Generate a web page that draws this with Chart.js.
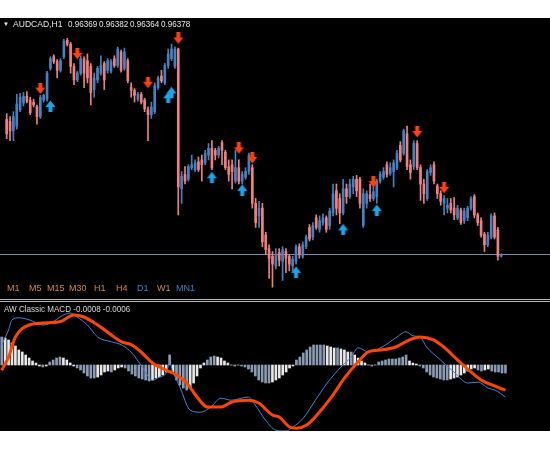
<!DOCTYPE html>
<html><head><meta charset="utf-8">
<script src="https://cdn.jsdelivr.net/npm/chart.js@4"></script>
<style>
html,body{margin:0;padding:0;background:#fff;width:550px;height:450px;overflow:hidden;}
#panel{position:absolute;left:0;top:18px;width:550px;height:413px;background:#000;}
.sep{position:absolute;left:0;width:550px;height:1px;background:#b8b8b8;}
#c1wrap{position:absolute;left:0;top:18px;width:550px;height:280px;}
#c2wrap{position:absolute;left:0;top:302px;width:550px;height:129px;}
canvas{display:block;}
.t{position:absolute;font-family:"Liberation Sans",Arial,sans-serif;white-space:nowrap;line-height:1;font-size:9px;}
.n{font-size:9.5px;transform:scaleX(0.85);transform-origin:0 0;}
</style></head><body>
<div id="panel"></div>
<div id="c1wrap"><canvas id="c1" width="550" height="280"></canvas></div>
<div class="sep" style="top:299px"></div>
<div class="sep" style="top:301px"></div>
<div id="c2wrap"><canvas id="c2" width="550" height="129"></canvas></div>

<div class="t" style="left:3px;top:21px;font-size:6px;color:#e8e8e8">▼</div>
<div class="t n" style="left:13px;top:19px;color:#e8e8e8;transform:scaleX(0.9)">AUDCAD,H1</div>
<div class="t n" style="left:68px;top:19px;color:#e8e8e8">0.96369</div>
<div class="t n" style="left:99px;top:19px;color:#e8e8e8">0.96382</div>
<div class="t n" style="left:130px;top:19px;color:#e8e8e8">0.96364</div>
<div class="t n" style="left:161px;top:19px;color:#e8e8e8">0.96378</div>

<div class="t" style="left:7px;top:284px;color:#d9864c">M1</div>
<div class="t" style="left:29px;top:284px;color:#d9864c">M5</div>
<div class="t" style="left:47px;top:284px;color:#d9864c">M15</div>
<div class="t" style="left:69px;top:284px;color:#d9864c">M30</div>
<div class="t" style="left:94px;top:284px;color:#d9864c">H1</div>
<div class="t" style="left:116px;top:284px;color:#d9864c">H4</div>
<div class="t" style="left:137px;top:284px;color:#4a7fc0">D1</div>
<div class="t" style="left:157px;top:284px;color:#d9864c">W1</div>
<div class="t" style="left:176px;top:284px;color:#4a7fc0">MN1</div>

<div class="t n" style="left:4px;top:304px;color:#d8d8d8">AW Classic MACD -0.0008 -0.0006</div>

<script>
// ---------- price data (AUDCAD H1) ----------
const open = [
0.97078,0.97068,0.97018,0.97043,0.97128,0.97163,0.97198,0.97178,0.97168,0.97143,
0.97093,0.97178,0.97183,0.97343,0.97403,0.97378,0.97333,0.97403,0.97488,0.97468,
0.97353,0.97283,0.97318,0.97393,0.97383,0.97353,0.97233,0.97283,0.97318,0.97368,
0.97333,0.97328,0.97393,0.97358,0.97428,0.97343,0.97383,0.97243,0.97228,0.97183,
0.97208,0.97178,0.97128,0.97103,0.97118,0.97243,0.97303,0.97268,0.97358,0.97393,
0.97353,0.97443,0.96718,0.96793,0.96768,0.96828,0.96818,0.96858,0.96868,0.96853,
0.96893,0.96928,0.96918,0.96893,0.96958,0.96908,0.96833,0.96843,0.96758,0.96828,
0.96758,0.96778,0.96808,0.96828,0.96643,0.96578,0.96618,0.96478,0.96408,0.96368,
0.96318,0.96388,0.96343,0.96393,0.96368,0.96318,0.96343,0.96418,0.96368,0.96418,
0.96518,0.96468,0.96568,0.96508,0.96543,0.96568,0.96528,0.96593,0.96708,0.96668,
0.96593,0.96718,0.96678,0.96728,0.96768,0.96768,0.96528,0.96643,0.96688,0.96668,
0.96678,0.96758,0.96778,0.96843,0.96798,0.96808,0.96828,0.96943,0.96903,0.97003,
0.96843,0.96833,0.96953,0.96828,0.96743,0.96668,0.96803,0.96843,0.96733,0.96693,
0.96643,0.96618,0.96643,0.96618,0.96568,0.96608,0.96553,0.96568,0.96618,0.96678,
0.96583,0.96553,0.96483,0.96428,0.96468,0.96578,0.96503,0.96369];
const high = [
0.97108,0.97093,0.97118,0.97208,0.97213,0.97218,0.97223,0.97193,0.97183,0.97153,
0.97203,0.97208,0.97328,0.97403,0.97413,0.97388,0.97393,0.97493,0.97498,0.97478,
0.97368,0.97328,0.97408,0.97403,0.97418,0.97368,0.97318,0.97353,0.97408,0.97378,
0.97393,0.97388,0.97408,0.97453,0.97438,0.97448,0.97393,0.97268,0.97238,0.97218,
0.97218,0.97188,0.97143,0.97168,0.97268,0.97303,0.97333,0.97368,0.97443,0.97468,
0.97453,0.97448,0.96808,0.96833,0.96843,0.96893,0.96868,0.96883,0.96893,0.96918,
0.96953,0.96968,0.96928,0.96938,0.96968,0.96918,0.96868,0.96868,0.96918,0.96868,
0.96808,0.96828,0.96903,0.96843,0.96668,0.96653,0.96643,0.96493,0.96428,0.96393,
0.96408,0.96408,0.96418,0.96408,0.96378,0.96368,0.96428,0.96433,0.96443,0.96478,
0.96533,0.96543,0.96583,0.96578,0.96588,0.96578,0.96618,0.96743,0.96743,0.96693,
0.96768,0.96743,0.96768,0.96783,0.96788,0.96778,0.96718,0.96708,0.96743,0.96728,
0.96768,0.96808,0.96828,0.96858,0.96853,0.96868,0.96918,0.96963,0.97028,0.97043,
0.96868,0.96968,0.96968,0.96843,0.96768,0.96818,0.96843,0.96858,0.96743,0.96708,
0.96683,0.96668,0.96668,0.96673,0.96633,0.96618,0.96618,0.96628,0.96678,0.96688,
0.96593,0.96568,0.96493,0.96493,0.96588,0.96593,0.96518,0.96382];
const low = [
0.96978,0.96968,0.96968,0.97028,0.97118,0.97148,0.97163,0.97103,0.97143,0.97053,
0.97083,0.97168,0.97173,0.97333,0.97368,0.97293,0.97323,0.97393,0.97458,0.97318,
0.97258,0.97273,0.97308,0.97243,0.97268,0.97153,0.97193,0.97268,0.97308,0.97233,
0.97318,0.97318,0.97348,0.97348,0.97323,0.97333,0.97268,0.97193,0.97168,0.97173,
0.97158,0.97118,0.96968,0.97083,0.97108,0.97233,0.97268,0.97258,0.97343,0.97383,
0.97343,0.96583,0.96643,0.96743,0.96758,0.96818,0.96808,0.96808,0.96758,0.96843,
0.96868,0.96818,0.96868,0.96878,0.96843,0.96818,0.96758,0.96718,0.96748,0.96743,
0.96743,0.96768,0.96793,0.96618,0.96518,0.96518,0.96418,0.96378,0.96253,0.96208,
0.96303,0.96318,0.96243,0.96283,0.96293,0.96293,0.96328,0.96358,0.96358,0.96408,
0.96448,0.96453,0.96508,0.96493,0.96528,0.96493,0.96508,0.96578,0.96583,0.96538,
0.96583,0.96643,0.96668,0.96693,0.96678,0.96618,0.96518,0.96618,0.96653,0.96658,
0.96643,0.96748,0.96768,0.96778,0.96788,0.96728,0.96818,0.96858,0.96893,0.96818,
0.96768,0.96818,0.96818,0.96658,0.96643,0.96658,0.96788,0.96743,0.96668,0.96633,
0.96583,0.96593,0.96593,0.96558,0.96558,0.96533,0.96538,0.96553,0.96608,0.96568,
0.96528,0.96468,0.96393,0.96418,0.96458,0.96458,0.96348,0.96364];
const close = [
0.97003,0.97018,0.97093,0.97158,0.97193,0.97198,0.97173,0.97113,0.97153,0.97093,
0.97193,0.97203,0.97318,0.97393,0.97378,0.97333,0.97383,0.97483,0.97468,0.97353,
0.97283,0.97318,0.97393,0.97318,0.97293,0.97218,0.97293,0.97343,0.97358,0.97283,
0.97383,0.97378,0.97358,0.97443,0.97333,0.97428,0.97278,0.97228,0.97203,0.97208,
0.97168,0.97133,0.97103,0.97143,0.97253,0.97293,0.97278,0.97358,0.97418,0.97443,
0.97443,0.96728,0.96783,0.96758,0.96833,0.96843,0.96853,0.96818,0.96843,0.96903,
0.96928,0.96828,0.96893,0.96928,0.96918,0.96828,0.96793,0.96808,0.96828,0.96758,
0.96793,0.96808,0.96893,0.96643,0.96543,0.96618,0.96443,0.96403,0.96358,0.96328,
0.96378,0.96348,0.96403,0.96358,0.96328,0.96353,0.96418,0.96378,0.96428,0.96468,
0.96458,0.96528,0.96518,0.96553,0.96568,0.96508,0.96603,0.96693,0.96618,0.96593,
0.96718,0.96678,0.96743,0.96768,0.96708,0.96643,0.96693,0.96693,0.96668,0.96703,
0.96758,0.96793,0.96808,0.96793,0.96828,0.96853,0.96903,0.96868,0.97018,0.96833,
0.96803,0.96953,0.96828,0.96743,0.96693,0.96808,0.96828,0.96758,0.96693,0.96653,
0.96668,0.96633,0.96608,0.96583,0.96618,0.96543,0.96603,0.96618,0.96668,0.96583,
0.96543,0.96478,0.96428,0.96478,0.96578,0.96468,0.96368,0.96378];

// signal arrows (bar index, price)
const downIdx = [10,21,42,51,69,73,109,122,130];
const downPrice = [0.97238,0.97418,0.97268,0.97498,0.96928,0.96878,0.96753,0.97013,0.96723];
const upIdx = [13,48,49,61,70,86,100,110];
const upPrice = [0.97148,0.97193,0.97218,0.96778,0.96713,0.96288,0.96508,0.96608];

// ---------- AW Classic MACD ----------
const histogram = [
0.0007,0.000675,0.000625,0.00055,0.000475,0.000375,0.000325,0.00025,0.000175,0.0001,
0.00005,-0.000025,-0.00005,-0.000025,0.000075,0.000125,0.000175,0.0002,0.000175,0.000125,
0.00005,-0.000025,-0.000075,-0.000125,-0.0002,-0.000275,-0.000325,-0.000325,-0.0003,-0.00025,
-0.000175,-0.00015,-0.000175,-0.000125,-0.000075,-0.00005,-0.000075,-0.00015,-0.000225,-0.000275,
-0.000325,-0.00035,-0.000375,-0.0004,-0.000375,-0.000325,-0.0003,-0.00025,-0.000175,0.00025,
-0.000175,-0.000375,-0.0005,-0.000575,-0.000625,-0.000575,-0.00045,-0.000275,-0.000075,0.00005,
0.000125,0.0002,0.000225,0.0002,0.000175,0.0001,0.00005,0,-0.000025,0,
-0.000025,-0.00005,-0.0001,-0.000175,-0.000275,-0.000375,-0.000425,-0.00045,-0.00045,-0.000425,
-0.000375,-0.000325,-0.00025,-0.000175,-0.000075,-0.000025,0.000125,0.0002,0.0003,0.000375,
0.00045,0.0005,0.0005,0.0005,0.0005,0.000475,0.00045,0.000425,0.000425,0.0004,
0.000375,0.000325,0.000325,0.00025,0.000175,0.0001,0.00005,0,-0.000025,0,
0.000075,0.0001,0.000125,0.00015,0.00015,0.00015,0.000175,0.0002,0.00025,0.0001,
0.00005,0.000025,-0.000025,-0.000075,-0.000175,-0.00025,-0.0003,-0.000325,-0.00035,-0.000375,
-0.000375,-0.00035,-0.000325,-0.0003,-0.00025,-0.0002,-0.00015,-0.0001,-0.000075,-0.000125,
-0.00015,-0.000125,-0.0001,-0.00015,-0.000175,-0.000175,-0.0002,-0.0002];
const macdIdx = [0,2,3,5,8,12,15,17,20,22,25,28,32,35,38,41,44,46,48,49,50,52,55,58,61,64,67,72,74,77,80,83,85,88,91,95,99,102,104,107,111,115,118,120,122,124,128,132,136,139,142,144,147];
const macdVal = [0.0005,0.00088,0.00113,0.00118,0.00113,0.001,0.00108,0.0012,0.0013,0.0012,
0.001,0.0007,0.00058,0.0005,0.0003,-0.00005,-0.00038,-0.0003,-0.0002,0.00005,
-0.00018,-0.00055,-0.00113,-0.00118,-0.00105,-0.00083,-0.00088,-0.0008,-0.001,-0.00138,
-0.00163,-0.00165,-0.00155,-0.00133,-0.00095,-0.00045,-0.00005,0.0002,0.00043,0.00033,
0.00045,0.00068,0.00083,0.00073,0.0007,0.00045,0.00013,-0.00018,-0.00045,-0.00043,
-0.00058,-0.00063,-0.0008];
const signalIdx = [0,2,4,8,12,17,21,24,28,32,35,38,41,44,48,51,54,57,60,64,67,72,75,79,81,84,86,89,92,96,100,104,107,111,115,119,122,126,129,133,137,140,144,147];
const signalVal = [-0.00013,0.0002,0.0007,0.001,0.00105,0.00108,0.00125,0.0012,0.001,0.00075,
0.00058,0.0005,0.0003,0.00005,-0.00013,-0.00025,-0.00045,-0.0008,-0.00105,-0.00105,
-0.00093,-0.00088,-0.00095,-0.00125,-0.0013,-0.00155,-0.00158,-0.0015,-0.00125,-0.00083,
-0.00033,0.00008,0.00033,0.00038,0.00045,0.00063,0.0007,0.00063,0.00045,0.00013,
-0.00018,-0.00038,-0.00053,-0.00063];

// ---------- styling ----------
const BULL = '#4682c0', BEAR = '#f08080';
const candleColors = close.map((c,i)=> c >= open[i] ? BULL : BEAR);

function arrowImg(color, down){
  const c = document.createElement('canvas'); c.width = 11; c.height = 12;
  const g = c.getContext('2d'); g.fillStyle = color; g.beginPath();
  const pts = [[3.5,0],[7.5,0],[7.5,5],[10.5,5],[5.5,11.5],[0.5,5],[3.5,5]];
  pts.forEach(([x,y],k)=>{ const yy = down ? y : 12 - y; k ? g.lineTo(x,yy) : g.moveTo(x,yy); });
  g.closePath(); g.fill(); return c;
}
const downImg = arrowImg('#ff4010', true);
const upImg = arrowImg('#1aa6ee', false);

const XMIN = -0.5, XMAX = 160;
const commonOpts = {
  responsive:false, animation:false, devicePixelRatio:1, events:[],
  layout:{padding:0},
  plugins:{legend:{display:false}, tooltip:{enabled:false}},
};

const priceLine = {
  id:'priceLine',
  beforeDatasetsDraw(chart){
    const g = chart.ctx, y = Math.round(chart.scales.y.getPixelForValue(close[close.length-1])) + 0.5;
    g.save(); g.strokeStyle = '#7890aa'; g.lineWidth = 1;
    g.beginPath(); g.moveTo(0,y); g.lineTo(chart.width,y); g.stroke(); g.restore();
  }
};

new Chart(document.getElementById('c1'), {
  type:'bar',
  data:{datasets:[
    {label:'wick', data: low.map((l,i)=>({x:i, y:[l, high[i]]})), backgroundColor:candleColors,
     barThickness:1, grouped:false, order:3},
    {label:'body', data: open.map((o,i)=>({x:i, y:[o, close[i]]})), backgroundColor:candleColors,
     barThickness:2, minBarLength:1, grouped:false, order:2},
    {type:'line', label:'sell', data: downIdx.map((x,k)=>({x, y:downPrice[k]})), showLine:false,
     pointStyle:downImg, order:1},
    {type:'line', label:'buy', data: upIdx.map((x,k)=>({x, y:upPrice[k]})), showLine:false,
     pointStyle:upImg, order:1}
  ]},
  options:Object.assign({}, commonOpts, {
    scales:{
      x:{type:'linear', min:XMIN, max:XMAX, display:false, offset:false},
      y:{min:0.96178, max:0.97578, display:false}
    }
  }),
  plugins:[priceLine]
});

const histColors = histogram.map((v,i)=>{
  if(i===0) return '#8a9bb2';
  return Math.abs(v) < Math.abs(histogram[i-1]) ? '#e8e8e8' : '#8a9bb2';
});

new Chart(document.getElementById('c2'), {
  type:'bar',
  data:{datasets:[
    {type:'line', label:'signal', data: signalIdx.map((x,k)=>({x, y:signalVal[k]})),
     borderColor:'#ff4500', borderWidth:3, pointRadius:0, cubicInterpolationMode:'monotone', order:1},
    {type:'line', label:'macd', data: macdIdx.map((x,k)=>({x, y:macdVal[k]})),
     borderColor:'#4a80d8', borderWidth:1, pointRadius:0, cubicInterpolationMode:'monotone', order:2},
    {label:'hist', data: histogram.map((v,i)=>({x:i, y:v})), backgroundColor:histColors,
     barThickness:2, grouped:false, order:3}
  ]},
  options:Object.assign({}, commonOpts, {
    scales:{
      x:{type:'linear', min:XMIN, max:XMAX, display:false, offset:false},
      y:{min:-0.00165, max:0.001575, display:false}
    }
  })
});
</script>
</body></html>
